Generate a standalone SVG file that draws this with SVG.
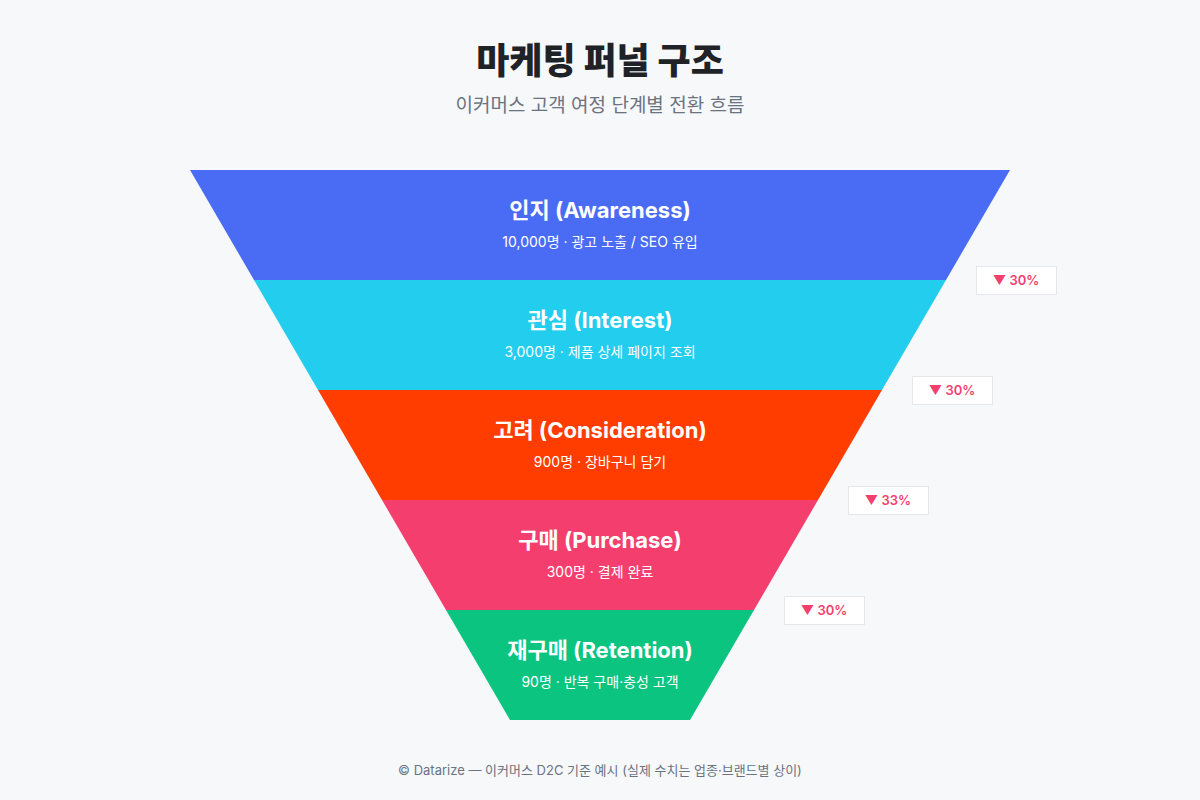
<svg xmlns="http://www.w3.org/2000/svg" width="1200" height="800" viewBox="0 0 1200 800">
<style>
.t{font-family:Inter,"Noto Sans CJK KR",sans-serif;text-anchor:middle}
.h{font-size:22px;font-weight:700;fill:#fff}
.s{font-size:14px;fill:#fff}
.b rect{fill:#fff;stroke:#E5E7EB;stroke-width:1}
.b text{font-family:Inter,"Noto Sans CJK KR",sans-serif;text-anchor:middle;font-size:13px;font-weight:600;fill:#F43F6E}
</style>
<rect width="1200" height="800" fill="#F6F8FA"/>
<text class="t" x="600" y="74" font-size="36" font-weight="800" fill="#1F2226">마케팅 퍼널 구조</text>
<text class="t" x="600" y="112" font-size="19" fill="#6B7280">이커머스 고객 여정 단계별 전환 흐름</text>
<g id="stage1"><polygon points="190,170 1010,170 946,280 254,280" fill="#4A6CF4"/>
<text class="t h" x="600" y="218">인지 (Awareness)</text><text class="t s" x="600" y="247">10,000명 · 광고 노출 / SEO 유입</text></g>
<g id="stage2"><polygon points="254,280 946,280 882,390 318,390" fill="#22CDEE"/>
<text class="t h" x="600" y="328">관심 (Interest)</text><text class="t s" x="600" y="357">3,000명 · 제품 상세 페이지 조회</text></g>
<g id="stage3"><polygon points="318,390 882,390 818,500 382,500" fill="#FF3D00"/>
<text class="t h" x="600" y="438">고려 (Consideration)</text><text class="t s" x="600" y="467">900명 · 장바구니 담기</text></g>
<g id="stage4"><polygon points="382,500 818,500 754,610 446,610" fill="#F43F6E"/>
<text class="t h" x="600" y="548">구매 (Purchase)</text><text class="t s" x="600" y="577">300명 · 결제 완료</text></g>
<g id="stage5"><polygon points="446,610 754,610 690,720 510,720" fill="#0BC47F"/>
<text class="t h" x="600" y="658">재구매 (Retention)</text><text class="t s" x="600" y="687">90명 · 반복 구매·충성 고객</text></g>
<g id="badges" class="b">
<rect x="976.5" y="266.5" width="80" height="28"/><text x="1016" y="285">▼ 30%</text>
<rect x="912.5" y="376.5" width="80" height="28"/><text x="952" y="395">▼ 30%</text>
<rect x="848.5" y="486.5" width="80" height="28"/><text x="888" y="505">▼ 33%</text>
<rect x="784.5" y="596.5" width="80" height="28"/><text x="824" y="615">▼ 30%</text>
</g>
<g id="connectors"/>
<text class="t" x="600" y="775" font-size="13" fill="#6B7280">© Datarize — 이커머스 D2C 기준 예시 (실제 수치는 업종·브랜드별 상이)</text>
</svg>
